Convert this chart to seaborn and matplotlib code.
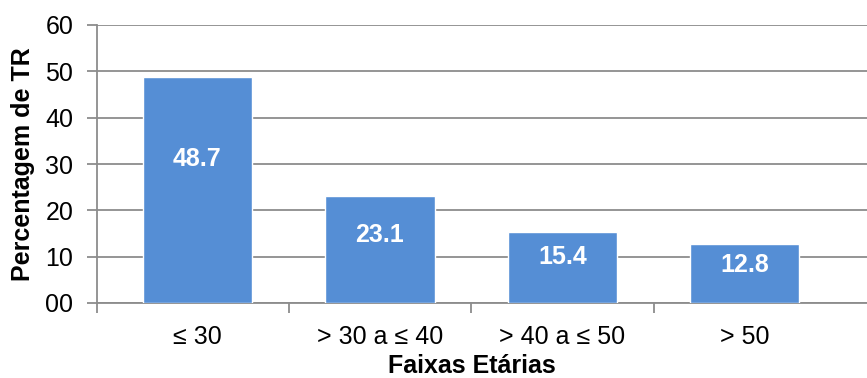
import matplotlib
matplotlib.use("Agg")
import matplotlib.pyplot as plt
import seaborn as sns
import pandas as pd
from matplotlib.ticker import FixedLocator

# Age groups and share of TR (%)
faixas = ["≤ 30", "> 30 a ≤ 40", "> 40 a ≤ 50", "> 50"]
percentagens = [48.7, 23.1, 15.4, 12.8]
y_ticks = [0, 10, 20, 30, 40, 50, 60]
y_tick_labels = ["00", "10", "20", "30", "40", "50", "60"]

df = pd.DataFrame({"faixa": faixas, "pct": percentagens})

sns.set_theme(style="white")
plt.rcParams["font.family"] = ["Liberation Sans", "DejaVu Sans"]

fig = plt.figure(figsize=(8.67, 3.78), dpi=100)
ax = fig.add_axes([97 / 867, 1 - 303 / 378, 1 - 97 / 867, (303 - 25) / 378])

bar_color = "#558ED5"
grid_color = "#8C8C8C"
fs = 18
x_left = -0.55

sns.barplot(data=df, x="faixa", y="pct", color=bar_color, saturation=1,
            width=0.6, ax=ax, zorder=3)

ax.set_xlim(x_left, 3.67)
ax.set_ylim(0, 60)

# horizontal gridlines
ax.set_yticks(y_ticks)
ax.set_yticklabels(y_tick_labels)
ax.yaxis.grid(True, color=grid_color, linewidth=1.3, zorder=0)
ax.xaxis.grid(False)
ax.set_axisbelow(True)

# category-boundary tick marks on the x axis
ax.xaxis.set_minor_locator(FixedLocator([x_left, 0.5, 1.5, 2.5]))
ax.tick_params(axis="x", which="minor", length=7, width=1.3, color=grid_color,
               direction="out", bottom=True)
ax.tick_params(axis="x", which="major", length=0, pad=16, labelsize=fs,
               labelcolor="black")
ax.tick_params(axis="y", which="major", length=7, width=1.3, color=grid_color,
               direction="out", left=True, pad=10, labelsize=fs,
               labelcolor="black")

for side in ["top", "right"]:
    ax.spines[side].set_visible(False)
for side in ["left", "bottom"]:
    ax.spines[side].set_color(grid_color)
    ax.spines[side].set_linewidth(1.3)

# value labels inside each bar
for i, v in enumerate(percentagens):
    ax.text(i, v * 0.64, f"{v:.1f}", ha="center", va="center",
            color="white", fontsize=fs, fontweight="bold", zorder=4)

ax.set_xlabel("Faixas Etárias", fontsize=fs, fontweight="bold", color="black")
ax.set_ylabel("Percentagem de TR", fontsize=fs, fontweight="bold", color="black")
ax.xaxis.set_label_coords(0.487, -0.183)
ax.yaxis.set_label_coords(-0.080, 0.5)

fig.savefig("out.png", dpi=100)
